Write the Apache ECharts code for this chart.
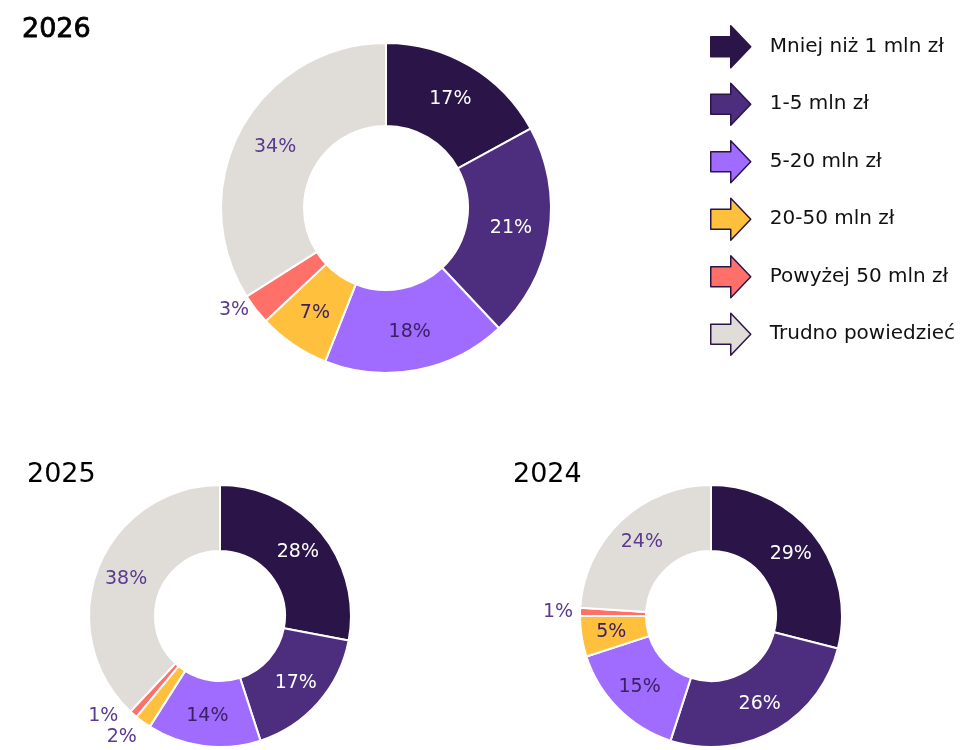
<!DOCTYPE html>
<html>
<head>
<meta charset="utf-8">
<script src="https://cdn.jsdelivr.net/npm/echarts@6/dist/echarts.min.js"></script>
<style>
  html, body { margin: 0; padding: 0; background: #fff; }
  #chart { width: 972px; height: 750px; }
</style>
</head>
<body>
<div id="chart"></div>
<script>
const categories = ['Mniej niż 1 mln zł', '1-5 mln zł', '5-20 mln zł', '20-50 mln zł', 'Powyżej 50 mln zł', 'Trudno powiedzieć']
const years = ['2026', '2025', '2024']
const values2026 = [17, 21, 18, 7, 3, 34]
const values2025 = [28, 17, 14, 2, 1, 38]
const values2024 = [29, 26, 15, 5, 1, 24]

const colors = ['#2b1548', '#4d2d7e', '#a06cff', '#ffc03d', '#ff7168', '#e0ddd9']
const labelColors = ['#ffffff', '#ffffff', '#3b2163', '#3b2163', '#5b3a8e', '#5b3a8e']
const FONT = '"DejaVu Sans"'

function buildData(values) {
  return values.map((v, i) => {
    const small = v <= 3
    return {
      name: categories[i],
      value: v,
      itemStyle: { color: colors[i] },
      label: {
        position: small ? 'outside' : 'inside',
        color: small ? '#5b3a8e' : labelColors[i],
      },
      labelLine: { show: false, length: 2, length2: 0 },
    }
  })
}

function pieSeries(values, center, radius) {
  return {
    type: 'pie',
    center: center,
    radius: radius,
    startAngle: 90,
    clockwise: true,
    avoidLabelOverlap: true,
    itemStyle: { borderColor: '#ffffff', borderWidth: 2 },
    label: {
      formatter: '{c}%',
      fontFamily: FONT,
      fontSize: 19,
    },
    emphasis: { disabled: true },
    data: buildData(values),
  }
}

const chart = echarts.init(document.getElementById('chart'), undefined, { renderer: 'canvas' })

const titleStyle = { fontFamily: FONT, fontSize: 27, fontWeight: 'normal', color: '#000' }

chart.setOption({
  backgroundColor: '#ffffff',
  animation: false,
  title: [
    { text: years[0], left: 17, top: 11, textStyle: Object.assign({}, titleStyle, { textBorderColor: '#000', textBorderWidth: 0.8 }) },
    { text: years[1], left: 22, top: 456, textStyle: titleStyle },
    { text: years[2], left: 508, top: 456, textStyle: titleStyle },
  ],
  legend: {
    orient: 'vertical',
    left: 705,
    top: 20,
    itemWidth: 40,
    itemHeight: 42,
    itemGap: 14,
    data: categories,
    icon: 'path://M0,11 L20,11 L20,0 L40,21 L20,42 L20,31 L0,31 Z',
    itemStyle: { borderColor: '#2b1548', borderWidth: 1.5 },
    textStyle: { fontFamily: FONT, fontSize: 20, color: '#111', padding: [0, 0, 0, 14] },
    selectedMode: false,
  },
  series: [
    pieSeries(values2026, [386, 208], [82, 165]),
    pieSeries(values2025, [220, 616], [65, 131]),
    pieSeries(values2024, [711, 616], [65, 131]),
  ],
})
</script>
</body>
</html>
